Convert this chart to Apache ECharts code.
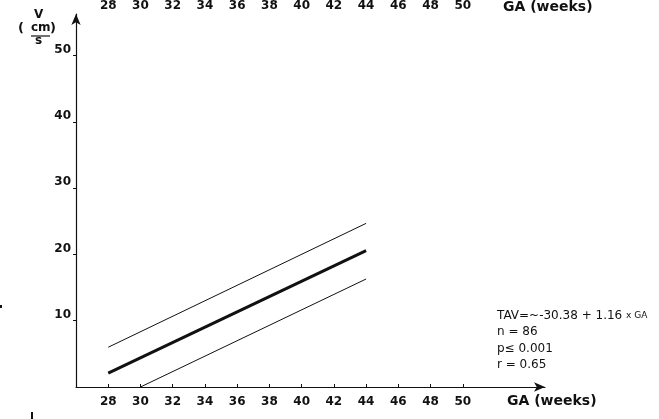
<!DOCTYPE html>
<html>
<head>
<meta charset="utf-8">
<script src="https://cdn.jsdelivr.net/npm/echarts@6/dist/echarts.min.js"></script>
<style>
html,body{margin:0;padding:0;background:#fff;}
#c{width:659px;height:419px;}
</style>
</head>
<body>
<div id="c"></div>
<script>
// ---- data ----
const xTickValues = [28, 30, 32, 34, 36, 38, 40, 42, 44, 46, 48, 50];
const yTickValues = [10, 20, 30, 40, 50];
const meanLine  = [[28, 2.1], [44, 20.6]];
const upperLine = [[28, 6.0], [44, 24.7]];
const lowerLine = [[30, 0.0], [44, 16.3]];
const xAxisTitle = 'GA (weeks)';
const statLines = ['n = 86', 'p\u2264 0.001', 'r = 0.65'];

const FONT = '"DejaVu Sans", Verdana, sans-serif';
const INK = '#111';

const chart = echarts.init(document.getElementById('c'), null, {renderer: 'canvas'});
const labelStyle = {color: INK, fontFamily: FONT, fontSize: 12, fontWeight: 'bold'};

chart.setOption({
  animation: false,
  backgroundColor: '#fff',
  grid: {left: 76, right: 114, top: 10, bottom: 32, containLabel: false},
  xAxis: [{
    type: 'value', min: 26, max: 55.1, interval: 2, position: 'bottom',
    axisLine: {show: true, lineStyle: {color: INK, width: 1.2}, symbol: ['none', 'arrow'], symbolSize: [7, 11]},
    axisTick: {show: true, inside: true, length: 3, lineStyle: {color: INK}, customValues: xTickValues},
    axisLabel: Object.assign({margin: 9, customValues: xTickValues}, labelStyle),
    splitLine: {show: false}
  }, {
    type: 'value', min: 26, max: 55.1, interval: 2, position: 'top',
    axisLine: {show: false}, axisTick: {show: false},
    axisLabel: Object.assign({margin: 2, customValues: xTickValues}, labelStyle),
    splitLine: {show: false}
  }],
  yAxis: {
    type: 'value', min: 0, max: 56.3, interval: 10,
    axisLine: {show: true, lineStyle: {color: INK, width: 1.2}, symbol: ['none', 'arrow'], symbolSize: [7, 11]},
    axisTick: {show: true, length: 3, lineStyle: {color: INK}, customValues: yTickValues},
    axisLabel: Object.assign({margin: 5, verticalAlign: 'bottom', customValues: yTickValues}, labelStyle),
    splitLine: {show: false}
  },
  series: [
    {type: 'line', data: upperLine, symbol: 'none', lineStyle: {color: INK, width: 1}, silent: true},
    {type: 'line', data: meanLine, symbol: 'none', lineStyle: {color: INK, width: 3}, silent: true},
    {type: 'line', data: lowerLine, symbol: 'none', lineStyle: {color: INK, width: 1}, silent: true}
  ],
  graphic: [
    // bottom axis title
    {type: 'text', left: 507, top: 394, style: {text: xAxisTitle, fill: INK, font: 'bold 14px ' + FONT}},
    // top (clipped) axis title from previous panel
    {type: 'text', left: 503, top: 0, style: {text: xAxisTitle, fill: INK, font: 'bold 14px ' + FONT}},
    // y axis name V (cm/s)
    {type: 'text', left: 34, top: 9, style: {text: 'V', fill: INK, font: 'bold 12px ' + FONT}},
    {type: 'text', left: 18, top: 22, style: {text: '(', fill: INK, font: 'bold 13px ' + FONT}},
    {type: 'text', left: 31, top: 22, style: {text: 'cm', fill: INK, font: 'bold 12px ' + FONT}},
    {type: 'text', left: 50, top: 22, style: {text: ')', fill: INK, font: 'bold 13px ' + FONT}},
    {type: 'line', shape: {x1: 31, y1: 36, x2: 50, y2: 36}, style: {stroke: INK, lineWidth: 1.2}},
    {type: 'text', left: 35, top: 35, style: {text: 's', fill: INK, font: 'bold 12px ' + FONT}},
    // regression annotation
    {type: 'text', left: 497, top: 310, style: {
      text: '{a|TAV=~-30.38 + 1.16 }{b|x GA}',
      rich: {a: {fill: INK, font: '12px ' + FONT}, b: {fill: INK, font: '9px ' + FONT}}
    }},
    {type: 'text', left: 497, top: 326, style: {text: statLines[0], fill: INK, font: '12px ' + FONT}},
    {type: 'text', left: 497, top: 343, style: {text: statLines[1], fill: INK, font: '12px ' + FONT}},
    {type: 'text', left: 497, top: 359, style: {text: statLines[2], fill: INK, font: '12px ' + FONT}},
    // scan specks
    {type: 'rect', shape: {x: 0, y: 305, width: 2, height: 3}, style: {fill: INK}},
    {type: 'rect', shape: {x: 31, y: 412, width: 2, height: 7}, style: {fill: INK}}
  ]
});
</script>
</body>
</html>
